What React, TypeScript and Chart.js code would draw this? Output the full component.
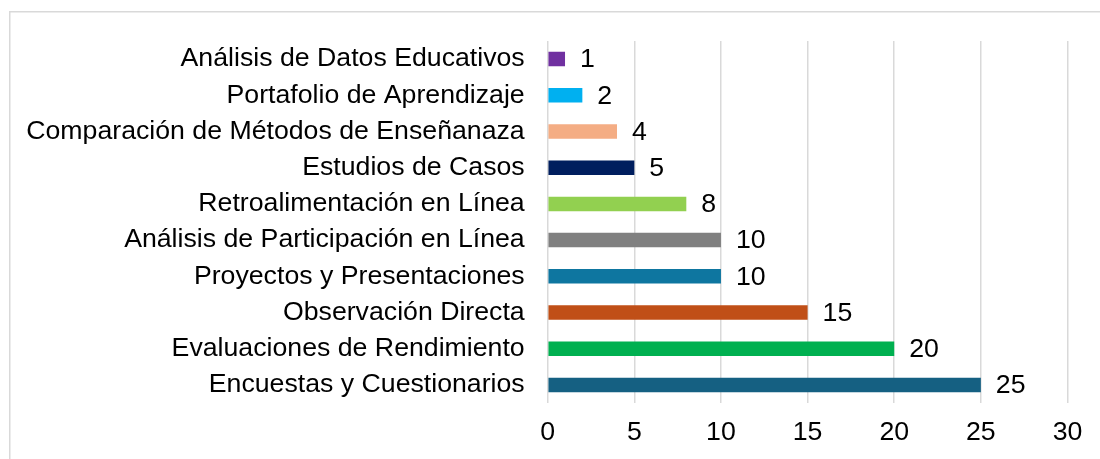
import React, { useEffect, useRef } from "react";
import { Chart, registerables } from "chart.js";

Chart.register(...registerables);

const categories = [
  "Análisis de Datos Educativos",
  "Portafolio de Aprendizaje",
  "Comparación de Métodos de Enseñanaza",
  "Estudios de Casos",
  "Retroalimentación en Línea",
  "Análisis de Participación en Línea",
  "Proyectos y Presentaciones",
  "Observación Directa",
  "Evaluaciones de Rendimiento",
  "Encuestas y Cuestionarios",
];
const values = [1, 2, 4, 5, 8, 10, 10, 15, 20, 25];
const barColors = [
  "#7030A0",
  "#00B0F0",
  "#F4AD84",
  "#001E5E",
  "#92D050",
  "#808080",
  "#0E76A0",
  "#C04F17",
  "#00B050",
  "#156082",
];
const xMin = 0;
const xMax = 30;
const xStep = 5;

const FONT = "'Liberation Sans', Arial, sans-serif";
const FONT_SIZE = 26.7;

const borderPlugin = {
  id: "outerBorder",
  beforeDraw(chart: any) {
    const ctx = chart.ctx;
    ctx.save();
    ctx.fillStyle = "#ffffff";
    ctx.fillRect(0, 0, chart.width, chart.height);
    ctx.strokeStyle = "#d9d9d9";
    ctx.lineWidth = 1.5;
    ctx.strokeRect(9.75, 11.75, chart.width + 20, chart.height + 20);
    ctx.restore();
  },
};

const valueLabelPlugin = {
  id: "valueLabels",
  afterDatasetsDraw(chart: any) {
    const ctx = chart.ctx;
    const meta = chart.getDatasetMeta(0);
    ctx.save();
    ctx.font = `${FONT_SIZE}px ${FONT}`;
    ctx.fillStyle = "#000000";
    ctx.textAlign = "left";
    ctx.textBaseline = "middle";
    meta.data.forEach((bar: any, i: number) => {
      ctx.fillText(String(values[i]), bar.x + 15, bar.y + 1);
    });
    ctx.restore();
  },
};

export default function App() {
  const ref = useRef<HTMLCanvasElement | null>(null);
  useEffect(() => {
    if (!ref.current) return;
    const chart = new Chart(ref.current, {
      type: "bar",
      data: {
        labels: categories,
        datasets: [
          {
            data: values,
            backgroundColor: barColors,
            categoryPercentage: 1,
            barPercentage: 0.4,
          },
        ],
      },
      options: {
        indexAxis: "y",
        responsive: false,
        animation: false,
        layout: { padding: { left: 0, right: 32.5, top: 41, bottom: 0 } },
        plugins: { legend: { display: false }, tooltip: { enabled: false } },
        scales: {
          x: {
            min: xMin,
            max: xMax,
            ticks: {
              stepSize: xStep,
              color: "#000000",
              font: { family: FONT, size: FONT_SIZE },
              padding: 14,
              maxRotation: 0,
            },
            grid: { color: "#d9d9d9", lineWidth: 1.5, drawTicks: false, tickLength: 0 },
            border: { display: false },
            afterFit: (scale: any) => {
              scale.height = 56;
            },
          },
          y: {
            ticks: {
              color: "#000000",
              font: { family: FONT, size: FONT_SIZE },
              padding: 23,
              autoSkip: false,
            },
            grid: { display: false, drawTicks: false, tickLength: 0 },
            border: { display: false },
            afterFit: (scale: any) => {
              scale.width = 547.7;
            },
          },
        },
      },
      plugins: [borderPlugin, valueLabelPlugin],
    });
    return () => chart.destroy();
  }, []);
  return (
    <div style={{ position: "fixed", left: 0, top: 0, width: 1100, height: 459 }}>
      <canvas ref={ref} width={1100} height={459} style={{ display: "block" }} />
    </div>
  );
}
